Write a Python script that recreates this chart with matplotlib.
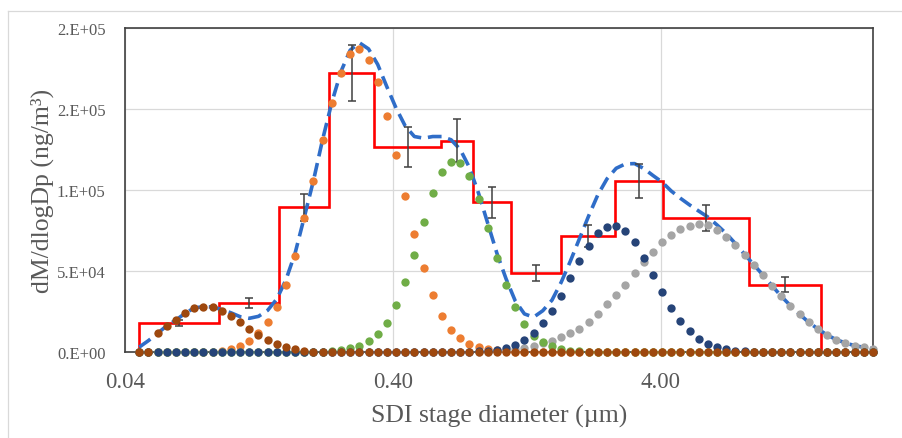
import numpy as np
import matplotlib
matplotlib.use("Agg")
import matplotlib.pyplot as plt
from matplotlib.lines import Line2D

plt.rcParams['font.family'] = ['Liberation Serif', 'DejaVu Serif']

# ---------------- data (concentrations in units of 1e3 ng/m3) ----------------
KILO = 1e3
diam = np.geomspace(0.0452, 24.8, 81)   # diameter grid of the fitted modes (um)

mode1 = [0, 0, 11.5, 16.2, 19.7, 23.9, 27.2, 28.0, 27.6, 25.5,
         22.4, 18.3, 14.2, 10.2, 7.2, 4.7, 3.1, 1.6, 0.8, 0.3,
         0, 0, 0, 0, 0, 0, 0, 0, 0, 0,
         0, 0, 0, 0, 0, 0, 0, 0, 0, 0,
         0, 0, 0, 0, 0, 0, 0, 0, 0, 0,
         0, 0, 0, 0, 0, 0, 0, 0, 0, 0,
         0, 0, 0, 0, 0, 0, 0, 0, 0, 0,
         0, 0, 0, 0, 0, 0, 0, 0, 0, 0,
         0]

mode2 = [0, 0, 0, 0, 0, 0, 0, 0, 0.2, 0.7,
         1.8, 3.5, 6.6, 11.8, 18.5, 28.0, 41.5, 59.5, 82.5, 105.5,
         131.0, 153.5, 172.0, 184.0, 187.0, 180.5, 166.5, 145.7, 121.6, 96.5,
         73.0, 52.0, 35.0, 22.0, 13.5, 8.5, 5.2, 3.2, 1.9, 1.0,
         0.4, 0.1, 0, 0, 0, 0, 0, 0, 0, 0,
         0, 0, 0, 0, 0, 0, 0, 0, 0, 0,
         0, 0, 0, 0, 0, 0, 0, 0, 0, 0,
         0, 0, 0, 0, 0, 0, 0, 0, 0, 0,
         0]

mode3 = [0, 0, 0, 0, 0, 0, 0, 0, 0, 0,
         0, 0, 0, 0, 0, 0, 0, 0, 0, 0.1,
         0.3, 0.6, 1.2, 2.3, 3.9, 6.6, 11.0, 18.0, 29.0, 43.0,
         60.0, 80.0, 98.0, 111.0, 117.5, 116.5, 108.5, 94.3, 76.5, 58.0,
         41.4, 28.0, 17.3, 10.0, 6.0, 3.5, 1.9, 0.9, 0.4, 0.1,
         0, 0, 0, 0, 0, 0, 0, 0, 0, 0,
         0, 0, 0, 0, 0, 0, 0, 0, 0, 0,
         0, 0, 0, 0, 0, 0, 0, 0, 0, 0,
         0]

mode4 = [0, 0, 0, 0, 0, 0, 0, 0, 0, 0,
         0, 0, 0, 0, 0, 0, 0, 0, 0, 0,
         0, 0, 0, 0, 0, 0, 0, 0, 0, 0,
         0, 0, 0, 0, 0, 0, 0.2, 0.4, 0.7, 1.3,
         2.3, 4.3, 7.6, 11.7, 17.7, 25.1, 34.8, 45.5, 56.4, 65.6,
         73.5, 77.3, 78.0, 74.5, 67.7, 58.0, 47.5, 37.2, 27.2, 19.0,
         12.8, 8.0, 4.9, 2.9, 1.9, 0.9, 0.4, 0.2, 0, 0,
         0, 0, 0, 0, 0, 0, 0, 0, 0, 0,
         0]

mode5 = [0, 0, 0, 0, 0, 0, 0, 0, 0, 0,
         0, 0, 0, 0, 0, 0, 0, 0, 0, 0,
         0, 0, 0, 0, 0, 0, 0, 0, 0, 0,
         0, 0, 0, 0, 0, 0, 0, 0.1, 0.3, 0.6,
         1.0, 1.6, 2.5, 3.9, 5.4, 7.0, 9.0, 11.5, 14.2, 18.7,
         23.5, 29.6, 35.4, 41.6, 48.6, 55.3, 61.5, 67.7, 72.2, 75.9,
         78.0, 79.0, 78.4, 75.5, 71.2, 66.0, 59.9, 53.7, 47.5, 40.9,
         34.4, 28.6, 23.3, 18.3, 14.2, 10.5, 7.6, 5.6, 3.9, 2.9,
         2.0]

fit_total = [3.0, 7.0, 11.5, 16.2, 19.7, 23.9, 27.2, 28.0, 27.8, 26.2,
             24.2, 21.8, 20.8, 22.0, 25.7, 32.7, 44.6, 61.1, 83.3, 105.9,
             131.3, 154.1, 173.2, 186.3, 190.9, 187.1, 177.5, 163.7, 150.6, 139.5,
             133.0, 132.0, 133.0, 133.0, 131.0, 125.0, 113.9, 97.9, 79.4, 60.9,
             45.1, 31.5, 23.5, 21.5, 25.5, 32.0, 43.0, 56.0, 70.0, 84.0,
             97.0, 106.9, 113.4, 116.1, 116.3, 113.3, 109.0, 104.9, 99.4, 94.9,
             90.8, 87.0, 83.3, 78.4, 73.1, 66.9, 60.3, 53.9, 47.5, 40.9,
             34.4, 28.6, 23.3, 18.3, 14.2, 10.5, 7.6, 5.6, 3.9, 2.9,
             2.0]

stage_edges = [0.0451, 0.0899, 0.150, 0.231, 0.341, 0.604, 0.797,
               1.10, 1.69, 2.69, 4.08, 8.54, 15.9]
stage_conc = [18.0, 30.2, 89.3, 172.0, 126.4, 130.5, 92.4,
              48.6, 71.8, 105.7, 82.5, 41.6]
stage_err = [1.9, 3.1, 8.5, 17.3, 12.5, 13.4, 9.4,
             4.9, 6.7, 10.5, 8.0, 4.4]

x_ticks = [0.04, 0.4, 4.0]
x_ticklabels = ["0.04", "0.40", "4.00"]
y_ticks = [0, 50e3, 100e3, 150e3, 200e3]
y_ticklabels = ["0.E+00", "5.E+04", "1.E+05", "2.E+05", "2.E+05"]

# ---------------- figure ----------------
W, H = 903, 439
fig = plt.figure(figsize=(W / 100, H / 100), dpi=100)
fig.patch.set_facecolor("white")
L, R, T, B = 125, 873, 29, 353
ax = fig.add_axes([L / W, 1 - B / H, (R - L) / W, (B - T) / H])

# outer chart border (light)
fig.add_artist(Line2D([8 / W, 1.0], [1 - 12 / H, 1 - 12 / H], color="#D9D9D9", lw=0.9))
fig.add_artist(Line2D([8 / W, 8 / W], [0, 1 - 12 / H], color="#D9D9D9", lw=0.9))

ax.set_xscale("log")
ax.set_xlim(0.04, 24.8)
ax.set_ylim(0, 200e3)

ax.set_xticks(x_ticks)
ax.set_xticklabels(x_ticklabels)
ax.xaxis.set_minor_locator(matplotlib.ticker.NullLocator())
ax.set_yticks(y_ticks)
ax.set_yticklabels(y_ticklabels)
ax.tick_params(axis="both", length=0, colors="#595959")
ax.tick_params(axis="x", labelsize=16.5, pad=14)
ax.tick_params(axis="y", labelsize=12, pad=14)

ax.grid(True, color="#D9D9D9", lw=0.9)
ax.set_axisbelow(True)
for s in ax.spines.values():
    s.set_color("#404040")
    s.set_linewidth(1.2)

ck = np.array
# step (measured stages)
ax.stairs(ck(stage_conc) * KILO, stage_edges, baseline=0, color="#FF0000",
          lw=1.9, zorder=3)

# total fit (dashed)
ax.plot(diam, ck(fit_total) * KILO, color="#2F6DC8", lw=2.6,
        dashes=(3.8, 1.9), zorder=4, dash_capstyle="butt")

# error bars at stage midpoints
e = ck(stage_edges)
mid = np.sqrt(e[:-1] * e[1:])
ax.errorbar(mid, ck(stage_conc) * KILO, yerr=ck(stage_err) * KILO, fmt="none",
            ecolor="#404040", elinewidth=1.1, capsize=2.6, capthick=1.1, zorder=5)

# lognormal modes (dotted)
for vals, col in [(mode2, "#ED7D31"), (mode5, "#A5A5A5"), (mode3, "#70AD47"),
                  (mode4, "#264478"), (mode1, "#9E480E")]:
    ax.plot(diam, ck(vals) * KILO, linestyle="none", marker="o", ms=6.0,
            color=col, mec="none", zorder=6, clip_on=False)

fig.text((L + R) / 2 / W, 1 - 416 / H, "SDI stage diameter (\u00b5m)", ha="center",
         va="center", fontsize=18.5, color="#595959")
fig.text(42 / W, 1 - 191 / H, "dM/dlogDp (ng/m\u00b3)", ha="center", va="center",
         rotation=90, fontsize=18.5, color="#595959")

fig.savefig("out.png", dpi=100)
